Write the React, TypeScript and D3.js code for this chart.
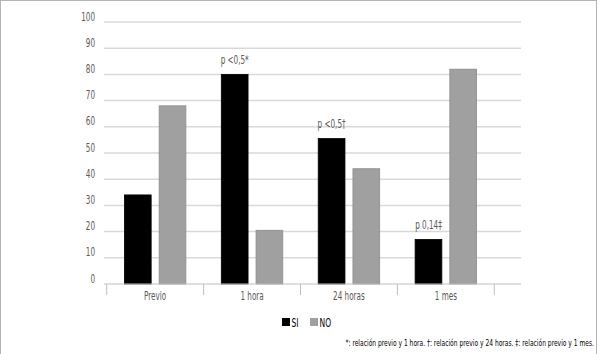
import React, { useEffect, useRef } from 'react';
import * as d3 from 'd3';

const categories = ['Previo', '1 hora', '24 horas', '1 mes'];
const seriesKeys = ['SI', 'NO'];
const siValues = [34, 80, 55.5, 17];
const noValues = [68, 20.5, 44, 82];
const pLabels = ['', 'p <0,5*', 'p <0,5†', 'p 0,14‡'];
const yTicks = [0, 10, 20, 30, 40, 50, 60, 70, 80, 90, 100];
const footnote = '*: relación previo y 1 hora. †: relación previo y 24 horas. ‡: relación previo y 1 mes.';

const FONT = '"DejaVu Sans Condensed", "Liberation Sans Narrow", sans-serif';
const SX = 0.7; // squeeze to mimic the condensed face
const colors: Record<string, { fill: string; stroke: string }> = {
  SI: { fill: '#000000', stroke: '#000000' },
  NO: { fill: '#a0a0a0', stroke: '#8c8c8c' },
};

const App = () => {
  const ref = useRef<HTMLDivElement>(null);

  useEffect(() => {
    document.body.style.margin = '0';
    if (!ref.current) return;
    const W = 600, H = 354;
    d3.select(ref.current).selectAll('*').remove();

    const svg = d3.select(ref.current)
      .append('svg')
      .attr('width', W)
      .attr('height', H)
      .style('display', 'block')
      .style('font-family', FONT);

    const place = (sel: any, fx: (d: any) => number, fy: (d: any) => number) =>
      sel.attr('transform', (d: any) => `translate(${fx(d)},${fy(d)}) scale(${SX},1)`);

    svg.append('rect')
      .attr('x', 0.5).attr('y', 0.5)
      .attr('width', 596).attr('height', H + 2)
      .attr('fill', '#fff')
      .attr('stroke', '#b4b4b4');

    const y = d3.scaleLinear().domain([0, 100]).range([284, 22]);
    const x = d3.scaleBand().domain(categories).range([106.7, 494.3]);
    const xs = d3.scaleBand().domain(seriesKeys).range([0, x.bandwidth()]).paddingInner(0.23).paddingOuter(0.51);
    const gridX0 = 104, gridX1 = 521;

    // grid
    svg.append('g').selectAll('line')
      .data(yTicks.filter(d => d > 0))
      .join('line')
      .attr('x1', gridX0).attr('x2', gridX1)
      .attr('y1', d => y(d)).attr('y2', d => y(d))
      .attr('stroke', '#d9d9d9').attr('stroke-width', 1.5);

    // y labels
    place(svg.append('g').selectAll('text')
      .data(yTicks)
      .join('text'), () => 95, (d: number) => y(d) - 1.5)
      .attr('text-anchor', 'end')
      .attr('font-size', 11.5)
      .attr('fill', '#595959')
      .text((d: number) => d);

    // bars
    const data = categories.map((c, i) => ({ c, SI: siValues[i], NO: noValues[i] }));
    const groups = svg.append('g').selectAll('g')
      .data(data)
      .join('g')
      .attr('transform', d => `translate(${x(d.c)},0)`);
    groups.selectAll('rect')
      .data(d => seriesKeys.map(k => ({ k, v: (d as any)[k] as number })))
      .join('rect')
      .attr('x', d => xs(d.k)!)
      .attr('width', xs.bandwidth())
      .attr('y', d => y(d.v))
      .attr('height', d => y(0) - y(d.v))
      .attr('fill', d => colors[d.k].fill)
      .attr('stroke', d => colors[d.k].stroke)
      .attr('stroke-width', 0.8);

    // p labels
    place(svg.append('g').selectAll('text')
      .data(categories.map((c, i) => ({ c, t: pLabels[i], v: siValues[i] })).filter(d => d.t))
      .join('text'),
      (d: any) => x(d.c)! + xs('SI')! + xs.bandwidth() / 2,
      (d: any) => y(d.v) - 10.5)
      .attr('text-anchor', 'middle')
      .attr('font-size', 11.5)
      .attr('fill', '#595959')
      .text((d: any) => d.t);

    // x axis
    svg.append('line')
      .attr('x1', gridX0).attr('x2', gridX1)
      .attr('y1', y(0)).attr('y2', y(0))
      .attr('stroke', '#bfbfbf').attr('stroke-width', 1);
    const tickPos = [...categories.map(c => x(c)!), x.range()[1]];
    svg.append('g').selectAll('line')
      .data(tickPos)
      .join('line')
      .attr('x1', d => d).attr('x2', d => d)
      .attr('y1', y(0)).attr('y2', y(0) + 11)
      .attr('stroke', '#bfbfbf');
    place(svg.append('g').selectAll('text')
      .data(categories)
      .join('text'), (d: string) => x(d)! + x.bandwidth() / 2, () => 299.5)
      .attr('text-anchor', 'middle')
      .attr('font-size', 11.5)
      .attr('fill', '#595959')
      .text((d: string) => d);

    // legend
    const legendX = [282, 310];
    seriesKeys.forEach((k, i) => {
      svg.append('rect')
        .attr('x', legendX[i]).attr('y', 318)
        .attr('width', 8).attr('height', 8)
        .attr('fill', colors[k].fill);
      svg.append('text')
        .attr('transform', `translate(${legendX[i] + 9.5},326.5) scale(${SX},1)`)
        .attr('font-size', 12)
        .attr('fill', '#000')
        .text(k);
    });

    svg.append('text')
      .attr('transform', `translate(594,345.5) scale(${SX},1)`)
      .attr('text-anchor', 'end')
      .attr('font-size', 9.5)
      .attr('fill', '#000')
      .text(footnote);
  }, []);

  return <div ref={ref}></div>;
};

export default App;
